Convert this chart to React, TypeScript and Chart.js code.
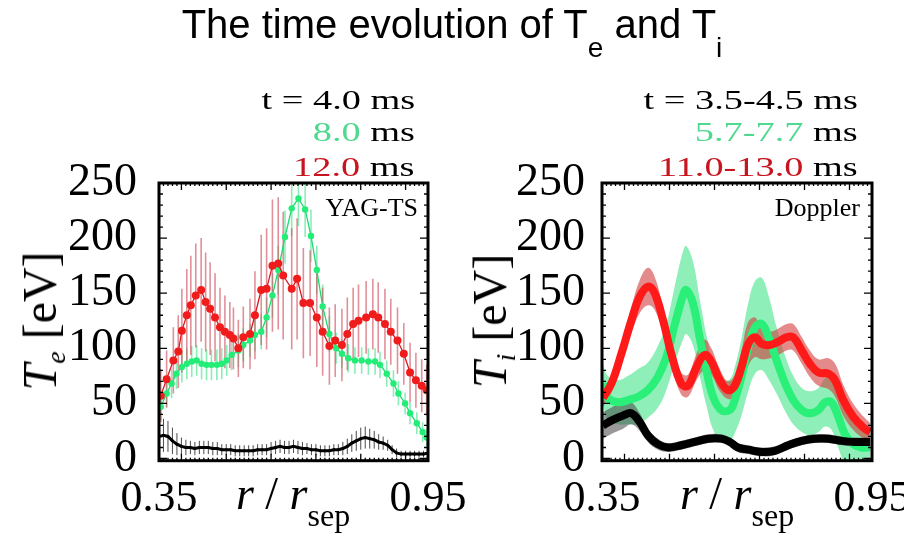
import React, { useEffect, useRef } from "react";
import { Chart, registerables } from "chart.js";
Chart.register(...registerables);

// ---------- Left panel: Te (YAG-TS) ----------
const teRedR = [0.354,0.367,0.382,0.393,0.401,0.412,0.421,0.432,0.444,0.454,0.464,0.475,0.486,0.497,0.508,0.516,0.527,0.538,0.553,0.564,0.578,0.590,0.603,0.616,0.627,0.646,0.658,0.672,0.687,0.702,0.715,0.730,0.743,0.758,0.770,0.783,0.795,0.812,0.827,0.839,0.854,0.867,0.882,0.896,0.910,0.923,0.936,0.947];
const teRed = [57,72,89,97,116,130,139,148,153,142,136,128,119,115,112,109,100,110,113,130,153,154,175,177,166,154,163,141,141,128,115,102,107,103,113,122,125,128,131,128,122,115,107,95,78,71,66,62];
const teRedErr = [24,26,30,33,38,42,45,47,47,45,42,40,36,33,30,28,26,28,32,40,50,55,60,60,58,55,55,50,48,45,40,35,33,33,33,33,33,33,32,32,32,30,30,28,27,25,24,23];

const teGreenR = [0.354,0.367,0.378,0.389,0.401,0.412,0.423,0.434,0.445,0.456,0.467,0.479,0.490,0.501,0.512,0.527,0.538,0.553,0.564,0.578,0.590,0.603,0.616,0.631,0.646,0.661,0.676,0.689,0.702,0.715,0.730,0.745,0.758,0.772,0.787,0.802,0.817,0.832,0.843,0.858,0.873,0.884,0.899,0.910,0.925,0.938,0.947];
const teGreen = [47,59,68,77,83,86,88,89,86,85,85,85,86,89,94,98,103,107,112,115,128,148,171,201,227,236,226,202,171,138,113,100,95,91,89,89,88,88,85,77,68,59,50,41,32,24,19];
const teGreenErr = [12,12,13,14,14,14,14,14,14,14,14,14,14,14,14,15,15,15,15,16,18,20,22,24,25,25,25,24,22,20,16,14,13,13,12,12,12,12,12,12,12,11,10,10,10,9,8];

const teBlackR = [0.35,0.36,0.37,0.38,0.39,0.40,0.41,0.42,0.43,0.44,0.45,0.46,0.47,0.48,0.49,0.50,0.51,0.52,0.53,0.54,0.55,0.56,0.57,0.58,0.59,0.60,0.61,0.62,0.63,0.64,0.65,0.66,0.67,0.68,0.69,0.70,0.71,0.72,0.73,0.74,0.75,0.76,0.77,0.78,0.79,0.80,0.81,0.82,0.83,0.84,0.85,0.86,0.87,0.88,0.89,0.90,0.91,0.92,0.93,0.94,0.95];
const teBlack = [20,21,20,16,13,11,10,10,9,10,10,10,9,9,8,8,8,7,7,7,7,7,8,8,8,9,10,11,10,10,11,10,9,9,8,8,7,7,7,8,8,9,11,14,16,18,19,18,17,15,14,12,8,5,4,4,4,4,4,4,5];
const teBlackErr = [15,15,14,12,10,8,7,6,6,6,6,6,6,6,5,5,5,5,5,5,5,5,5,5,5,6,6,6,6,6,6,6,6,5,5,5,5,5,5,5,5,6,7,8,9,10,10,9,8,7,6,5,4,4,3,3,3,3,3,3,3];

// ---------- Right panel: Ti (Doppler) ----------
const tiRedR = [0.352,0.371,0.393,0.415,0.434,0.452,0.467,0.486,0.504,0.526,0.541,0.560,0.578,0.593,0.612,0.630,0.645,0.660,0.675,0.690,0.705,0.723,0.742,0.760,0.775,0.794,0.812,0.831,0.853,0.868,0.886,0.908,0.931,0.946];
const tiRed = [55,68,95,125,147,156,150,125,95,68,66,83,94,88,71,62,66,83,104,110,104,103,106,110,110,98,86,78,77,71,53,38,28,24];
const tiRedErr = [8,8,10,12,15,17,15,12,10,10,10,12,14,12,10,8,10,15,20,18,14,12,12,12,12,12,12,12,14,15,14,12,10,8];

const tiGreenR = [0.352,0.363,0.386,0.408,0.430,0.452,0.474,0.493,0.512,0.530,0.537,0.552,0.567,0.582,0.597,0.615,0.634,0.645,0.660,0.675,0.690,0.705,0.720,0.738,0.757,0.775,0.794,0.812,0.831,0.846,0.860,0.875,0.890,0.908,0.927,0.946];
const tiGreen = [68,55,51,53,56,62,74,92,122,148,153,141,110,80,56,44,44,53,74,101,119,122,110,89,68,53,44,41,44,51,51,38,22,13,10,10];
const tiGreenErr = [18,20,20,22,25,25,28,30,35,40,40,38,35,32,30,28,28,30,35,40,42,42,38,30,25,22,20,20,20,22,25,28,28,25,22,20];

const tiBlackR = [0.352,0.374,0.397,0.415,0.434,0.452,0.474,0.497,0.526,0.556,0.586,0.615,0.634,0.652,0.675,0.705,0.734,0.764,0.794,0.823,0.853,0.883,0.912,0.946];
const tiBlack = [30,35,39,41,33,21,13,10,12,15,18,18,15,10,8,6,7,12,16,18,18,16,15,15];
const tiBlackErr = [12,12,12,10,8,6,5,4,4,4,4,4,4,4,4,4,4,4,4,4,4,4,4,4];

const yTicks = [0, 50, 100, 150, 200, 250];
const xTicks = [0.35, 0.95];

const SERIF = "'Liberation Serif', 'Times New Roman', serif";
const SANS = "'Liberation Sans', Arial, sans-serif";
const W = 904;
const H = 533;

type XY = { x: number; y: number | null };

function lineDs(xs: number[], ys: number[], o: any) {
  return { data: xs.map((x, i) => ({ x, y: ys[i] })), clip: 0, fill: false, ...o };
}
function errDs(xs: number[], ys: number[], es: number[], color: string, width: number) {
  const data: XY[] = [];
  xs.forEach((x, i) => {
    data.push({ x, y: ys[i] - es[i] }, { x, y: ys[i] + es[i] }, { x, y: null });
  });
  return { data, borderColor: color, borderWidth: width, pointRadius: 0, tension: 0, spanGaps: false, fill: false, clip: 0 };
}
function bandDs(xs: number[], ys: number[], es: number[], color: string) {
  return [
    { data: xs.map((x, i) => ({ x, y: ys[i] + es[i] })), borderColor: "transparent", borderWidth: 0, pointRadius: 0, tension: 0.4, fill: "+1", backgroundColor: color, clip: 0 },
    { data: xs.map((x, i) => ({ x, y: ys[i] - es[i] })), borderColor: "transparent", borderWidth: 0, pointRadius: 0, tension: 0.4, fill: false, clip: 0 },
  ];
}

const framePlugin = {
  id: "frame",
  afterDatasetsDraw(chart: any) {
    const { ctx, chartArea: a, scales } = chart;
    const x = scales.x;
    const y = scales.y;
    ctx.save();
    ctx.strokeStyle = "#000";
    ctx.lineWidth = 1.3;
    ctx.beginPath();
    for (let v = 0; v <= 250; v += 10) {
      const py = y.getPixelForValue(v);
      const len = v % 50 === 0 ? 8 : 4;
      ctx.moveTo(a.left, py);
      ctx.lineTo(a.left + len, py);
      ctx.moveTo(a.right, py);
      ctx.lineTo(a.right - len, py);
    }
    for (let i = 35; i <= 95; i++) {
      const px = x.getPixelForValue(i / 100);
      const len = i % 10 === 0 ? 7 : 3;
      ctx.moveTo(px, a.top);
      ctx.lineTo(px, a.top + len);
      ctx.moveTo(px, a.bottom);
      ctx.lineTo(px, a.bottom - len);
    }
    ctx.stroke();
    ctx.lineWidth = 3;
    ctx.strokeRect(a.left, a.top, a.right - a.left, a.bottom - a.top);
    ctx.restore();
  },
};

function makeConfig(datasets: any[], axisWidth: number, rightPad: number, yPad: number) {
  return {
    type: "line",
    data: { datasets },
    options: {
      animation: false,
      responsive: false,
      maintainAspectRatio: false,
      events: [],
      layout: { padding: { top: 183, right: rightPad, left: 0, bottom: 0 } },
      plugins: { legend: { display: false }, tooltip: { enabled: false }, title: { display: false } },
      scales: {
        x: {
          type: "linear",
          min: 0.35,
          max: 0.95,
          grid: { display: false, drawTicks: false },
          border: { display: false },
          afterBuildTicks: (s: any) => {
            s.ticks = xTicks.map((v) => ({ value: v }));
          },
          afterFit: (s: any) => {
            s.height = H - 460.7;
            s.paddingLeft = 0;
            s.paddingRight = 0;
          },
          ticks: {
            autoSkip: false,
            maxRotation: 0,
            minRotation: 0,
            padding: 12,
            color: "#000",
            font: { family: SERIF, size: 44 },
            callback: (v: any) => Number(v).toFixed(2),
          },
        },
        y: {
          type: "linear",
          min: -2,
          max: 250,
          grid: { display: false, drawTicks: false },
          border: { display: false },
          afterBuildTicks: (s: any) => {
            s.ticks = yTicks.map((v) => ({ value: v }));
          },
          afterFit: (s: any) => {
            s.width = axisWidth;
            s.paddingTop = 0;
            s.paddingBottom = 0;
          },
          ticks: {
            autoSkip: false,
            padding: yPad,
            color: "#000",
            font: { family: SERIF, size: 46 },
            callback: (v: any) => String(v),
          },
        },
      },
    },
    plugins: [framePlugin],
  };
}

function leftDatasets() {
  return [
    lineDs(teBlackR, teBlack, { borderColor: "#000", borderWidth: 3, pointRadius: 1.5, pointBackgroundColor: "#000", pointBorderWidth: 0, tension: 0 }),
    lineDs(teRedR, teRed, { borderColor: "#d81820", borderWidth: 1.3, pointRadius: 4, pointBackgroundColor: "#f01c1c", pointBorderWidth: 0, tension: 0 }),
    lineDs(teGreenR, teGreen, { borderColor: "#20d870", borderWidth: 1.3, pointRadius: 3.2, pointBackgroundColor: "#22ee77", pointBorderWidth: 0, tension: 0 }),
    errDs(teBlackR, teBlack, teBlackErr, "rgba(30,30,30,0.8)", 1),
    errDs(teRedR, teRed, teRedErr, "rgba(205,70,85,0.6)", 1.6),
    errDs(teGreenR, teGreen, teGreenErr, "rgba(60,225,135,0.6)", 1.6),
  ];
}

function rightDatasets() {
  return [
    lineDs(tiBlackR, tiBlack, { borderColor: "#000", borderWidth: 8, pointRadius: 0, tension: 0.4 }),
    lineDs(tiRedR, tiRed, { borderColor: "#ff1a1a", borderWidth: 8, pointRadius: 0, tension: 0.4 }),
    lineDs(tiGreenR, tiGreen, { borderColor: "#2af07a", borderWidth: 8, pointRadius: 0, tension: 0.4 }),
    ...bandDs(tiBlackR, tiBlack, tiBlackErr, "rgba(70,70,70,0.55)"),
    ...bandDs(tiRedR, tiRed, tiRedErr, "rgba(210,60,60,0.6)"),
    ...bandDs(tiGreenR, tiGreen, tiGreenErr, "rgba(50,225,125,0.55)"),
  ];
}

function Txt(props: { x: number; base: number; size: number; align?: "left" | "right" | "center"; family?: string; scaleX?: number; children: any }) {
  const { x, base, size, align = "left", family = SERIF, scaleX = 1, children } = props;
  const style: any = {
    position: "absolute",
    top: base - size * 0.8375,
    fontFamily: family,
    fontSize: size,
    lineHeight: size + "px",
    whiteSpace: "nowrap",
    color: "#000",
  };
  if (align === "right") {
    style.right = W - x;
    style.transform = `scaleX(${scaleX})`;
    style.transformOrigin = "right center";
  } else if (align === "center") {
    style.left = x;
    style.transform = `translateX(-50%) scaleX(${scaleX})`;
  } else {
    style.left = x;
  }
  return <div style={style}>{children}</div>;
}

const GREEN_TXT = "#4fd88e";
const RED_TXT = "#c8141e";

export default function App() {
  const c1 = useRef<HTMLCanvasElement>(null);
  const c2 = useRef<HTMLCanvasElement>(null);

  useEffect(() => {
    const ch1 = new Chart(c1.current as any, makeConfig(leftDatasets(), 159, W - 428, 22) as any);
    const ch2 = new Chart(c2.current as any, makeConfig(rightDatasets(), 602, W - 872, 17) as any);
    return () => {
      ch1.destroy();
      ch2.destroy();
    };
  }, []);

  const subSm = { fontSize: 28, lineHeight: 0, verticalAlign: "-9px" } as any;

  return (
    <div style={{ position: "fixed", left: 0, top: 0, width: W, height: H, background: "#fff", overflow: "hidden" }}>
      <canvas ref={c1} width={W} height={H} style={{ position: "absolute", left: 0, top: 0, width: W, height: H }} />
      <canvas ref={c2} width={W} height={H} style={{ position: "absolute", left: 0, top: 0, width: W, height: H }} />

      {/* Title */}
      <div style={{ position: "absolute", left: 0, width: W, top: 38 - 40 * 0.8465, textAlign: "center", fontFamily: SANS, fontSize: 40, lineHeight: "40px", whiteSpace: "nowrap" }}>
        The time evolution of T
        <span style={{ fontSize: 28, lineHeight: 0, verticalAlign: "-19px" }}>e</span> and T
        <span style={{ fontSize: 28, lineHeight: 0, verticalAlign: "-19px" }}>i</span>
      </div>

      {/* Left legend */}
      <Txt x={415} base={110} size={27} align="right" scaleX={1.42}>t = 4.0 ms</Txt>
      <Txt x={415} base={142} size={27} align="right" scaleX={1.42}>
        <span style={{ color: GREEN_TXT }}>8.0</span> ms
      </Txt>
      <Txt x={415} base={177} size={27} align="right" scaleX={1.42}>
        <span style={{ color: RED_TXT }}>12.0</span> ms
      </Txt>

      {/* Right legend */}
      <Txt x={858} base={110} size={27} align="right" scaleX={1.42}>t = 3.5-4.5 ms</Txt>
      <Txt x={858} base={142} size={27} align="right" scaleX={1.42}>
        <span style={{ color: GREEN_TXT }}>5.7-7.7</span> ms
      </Txt>
      <Txt x={858} base={177} size={27} align="right" scaleX={1.42}>
        <span style={{ color: RED_TXT }}>11.0-13.0</span> ms
      </Txt>

      {/* Instrument labels */}
      <Txt x={418} base={217} size={26} align="right">YAG-TS</Txt>
      <Txt x={860} base={217} size={26} align="right">Doppler</Txt>

      {/* Y axis titles */}
      <div style={{ position: "absolute", left: 40, top: 321, transform: "translate(-50%,-50%) rotate(-90deg)", fontFamily: SERIF, fontSize: 48, lineHeight: "48px", whiteSpace: "nowrap" }}>
        <i>T</i>
        <i style={subSm}>e</i> [eV]
      </div>
      <div style={{ position: "absolute", left: 490, top: 321, transform: "translate(-50%,-50%) rotate(-90deg)", fontFamily: SERIF, fontSize: 48, lineHeight: "48px", whiteSpace: "nowrap" }}>
        <i>T</i>
        <i style={subSm}>i</i> [eV]
      </div>

      {/* X axis titles */}
      <Txt x={293} base={510} size={46} align="center">
        <i>r</i> / <i>r</i>
        <span style={{ fontSize: 32, lineHeight: 0, verticalAlign: "-17px" }}>sep</span>
      </Txt>
      <Txt x={737} base={510} size={46} align="center">
        <i>r</i> / <i>r</i>
        <span style={{ fontSize: 32, lineHeight: 0, verticalAlign: "-17px" }}>sep</span>
      </Txt>
    </div>
  );
}
